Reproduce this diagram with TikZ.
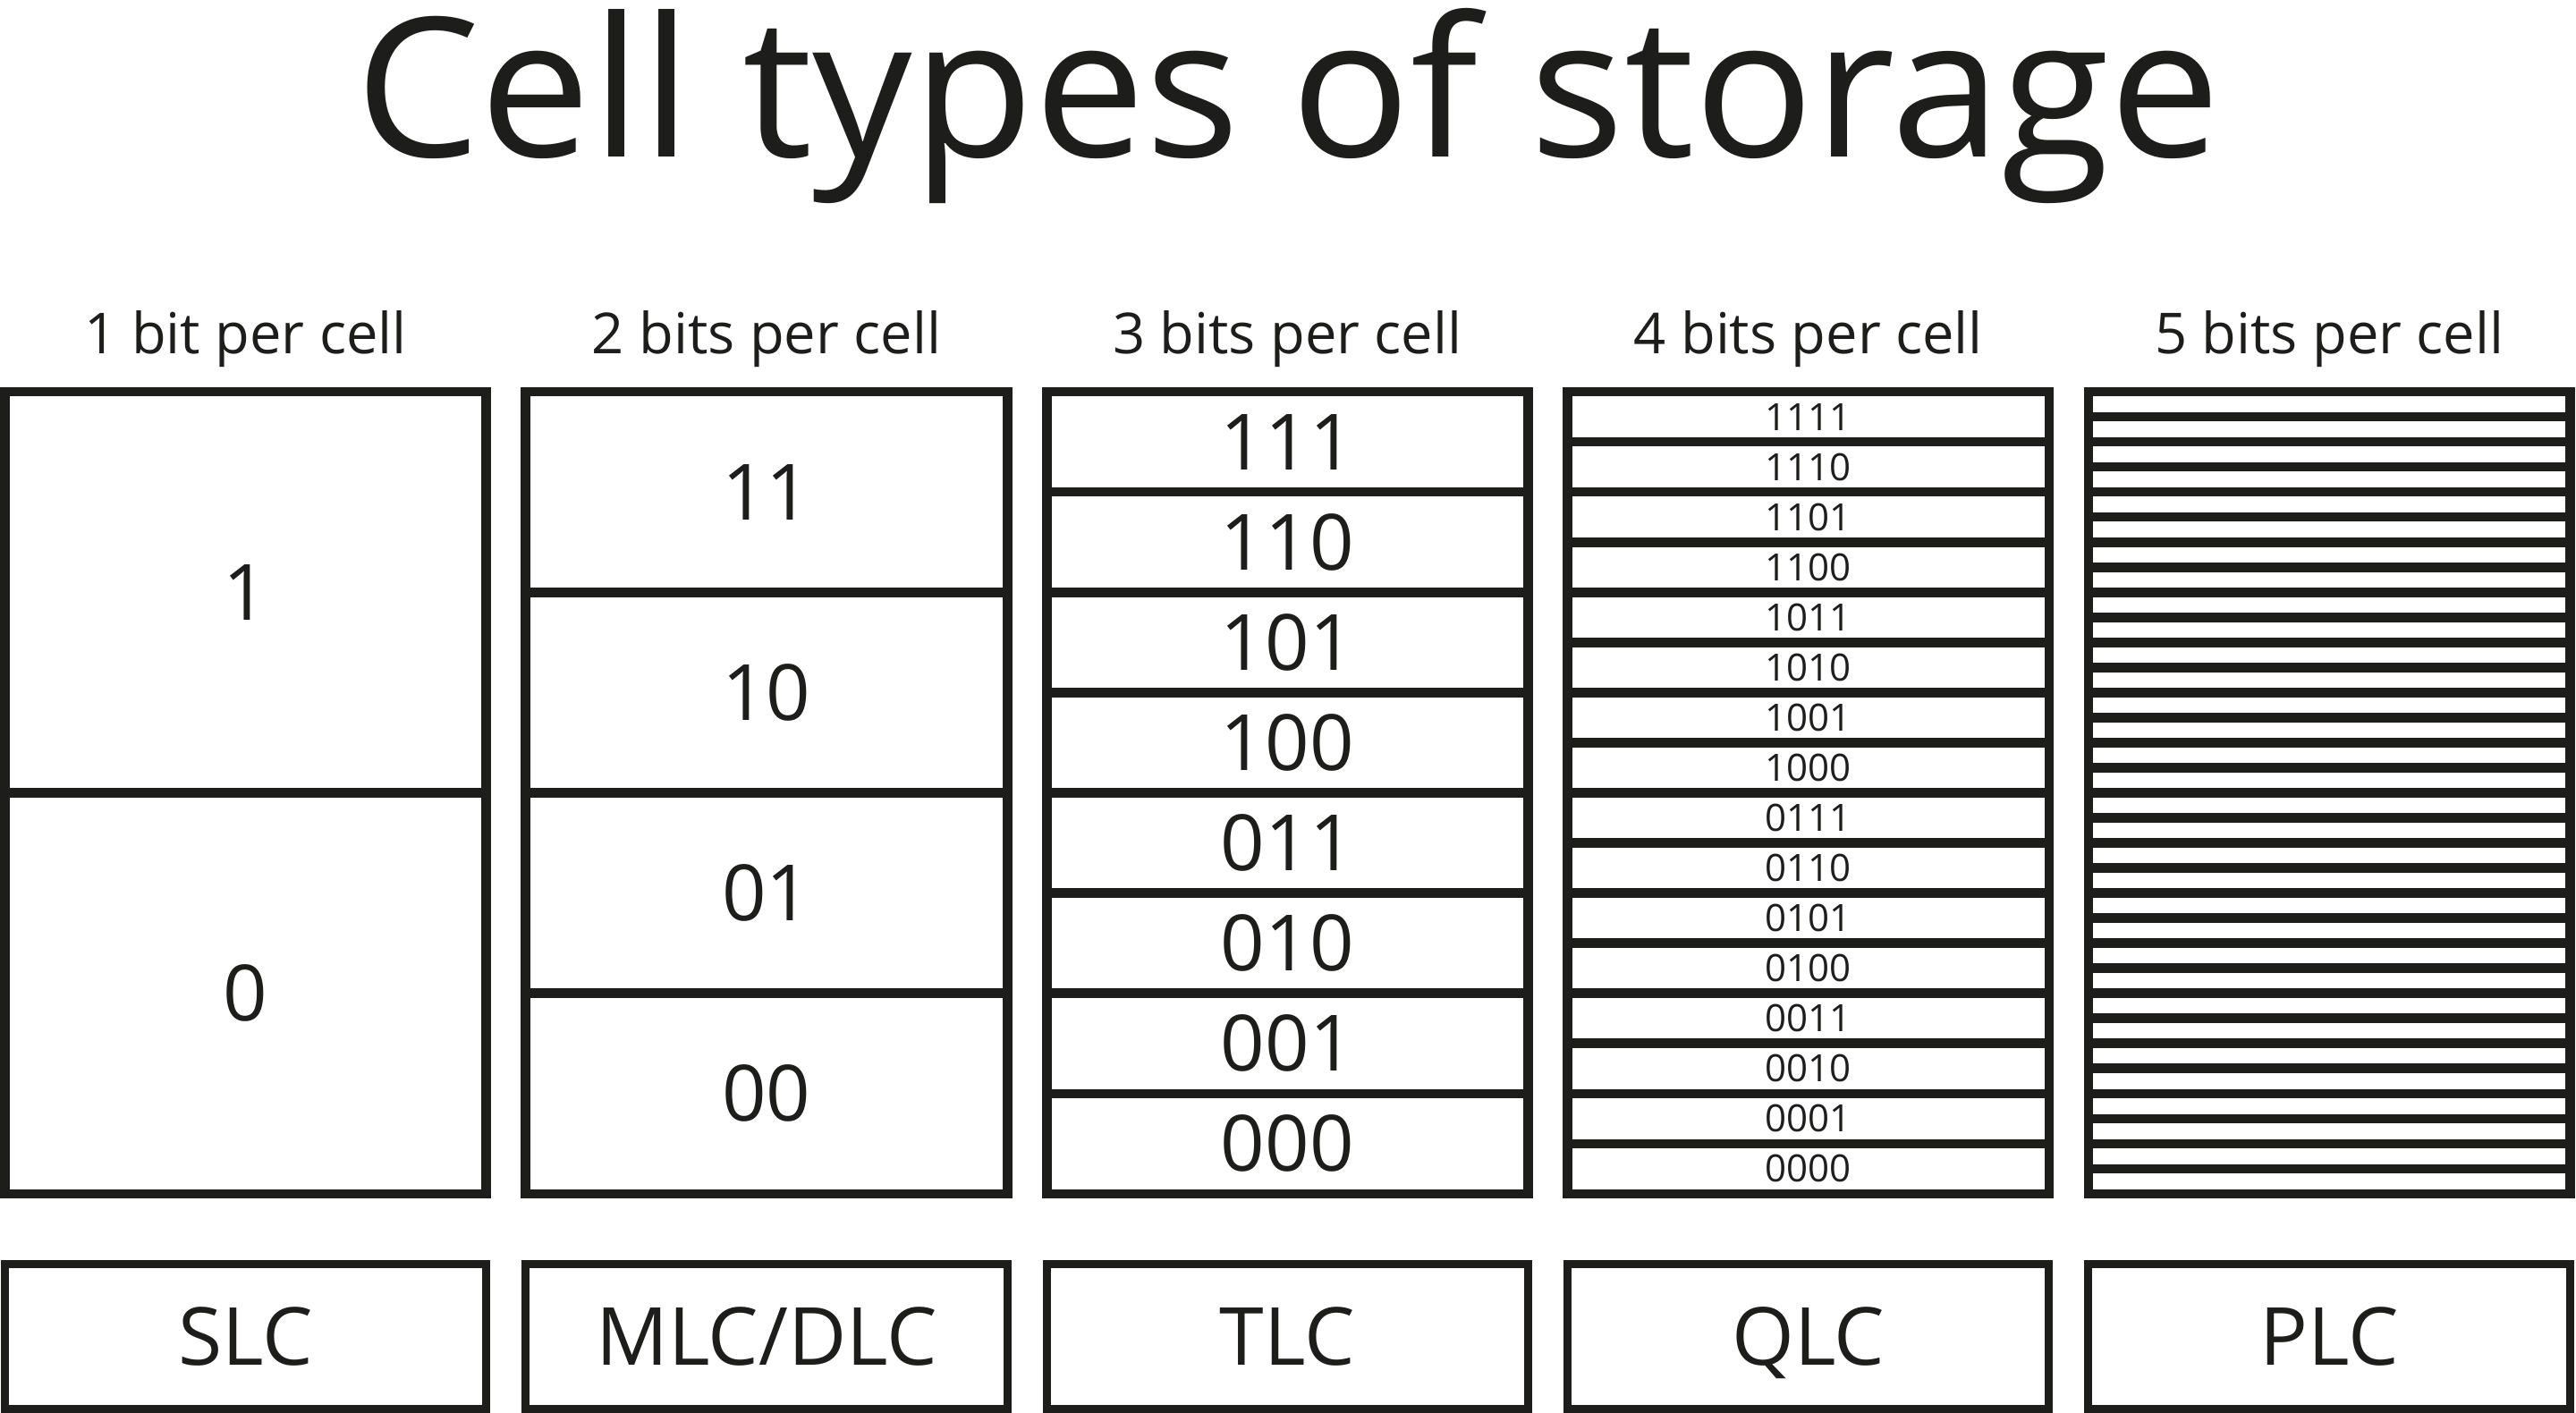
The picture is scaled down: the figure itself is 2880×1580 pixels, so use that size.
\documentclass[tikz,border=0pt]{standalone}
\usepackage{fontspec}
\setmainfont{Open Sans}
\definecolor{ink}{RGB}{29,29,27}
\begin{document}
\begin{tikzpicture}[x=0.25pt,y=-0.25pt,
  cellline/.style={draw=ink, line width=2.675pt, line join=miter},
  labline/.style={draw=ink, line width=2.25pt, line join=miter},
  bigdigit/.style={text=ink, inner sep=0pt, font=\fontsize{21.7}{26}\selectfont},
  smalldigit/.style={text=ink, inner sep=0pt, font=\fontsize{10.5}{12}\selectfont},
  headtext/.style={text=ink, inner sep=0pt, anchor=base, font=\fontsize{15.8}{19}\selectfont},
  labtext/.style={text=ink, inner sep=0pt, anchor=base, font=\fontsize{22.4}{27}\selectfont},
  titletext/.style={text=ink, inner sep=0pt, anchor=base, xscale=1.02, font=\fontsize{54.3}{64}\selectfont}]
\useasboundingbox (0,0) rectangle (2880,1580);
\fill[white] (0,0) rectangle (2880,1580);

% title
\node[titletext] (title) at (1440,176) {Cell types of storage};

% columns
\foreach \i/\head/\lab in {0/1 bit per cell/SLC, 1/2 bits per cell/MLC\slash DLC, 2/3 bits per cell/TLC, 3/4 bits per cell/QLC, 4/5 bits per cell/PLC}{
  \pgfmathsetmacro\xl{5.35+582.4*\i}
  \pgfmathsetmacro\xr{\xl+538.4}
  \pgfmathsetmacro\cx{\xl+269.2}
  \pgfmathtruncatemacro\n{2^(\i+1)}
  \pgfmathtruncatemacro\m{\n-1}
  \pgfmathsetmacro\h{897/\n}
  \foreach \k in {1,...,\m}{
    \draw[cellline] (\xl,{438+\k*\h}) -- (\xr,{438+\k*\h});
  }
  \draw[cellline] (\xl,438) rectangle (\xr,1335);
  \node[headtext] (head\i) at (\cx,395.7) {\head};
  \draw[labline] (\xl,1413.5) rectangle (\xr,1575);
  \node[labtext] (lab\i) at (\cx,1526.7) {\lab};
}

% SLC
\foreach \t [count=\k from 0] in {1,0}
  \node[bigdigit] (slc\k) at (274.55,{438+(\k+0.5)*448.5}) {\t};
% MLC
\foreach \t [count=\k from 0] in {11,10,01,00}
  \node[bigdigit] (mlc\k) at (856.95,{438+(\k+0.5)*224.25}) {\t};
% TLC
\foreach \t [count=\k from 0] in {111,110,101,100,011,010,001,000}
  \node[bigdigit] (tlc\k) at (1439.35,{438+(\k+0.5)*112.125}) {\t};
% QLC
\foreach \t [count=\k from 0] in {1111,1110,1101,1100,1011,1010,1001,1000,0111,0110,0101,0100,0011,0010,0001,0000}
  \node[smalldigit] (qlc\k) at (2021.75,{438+(\k+0.5)*56.0625}) {\t};
\end{tikzpicture}
\end{document}
